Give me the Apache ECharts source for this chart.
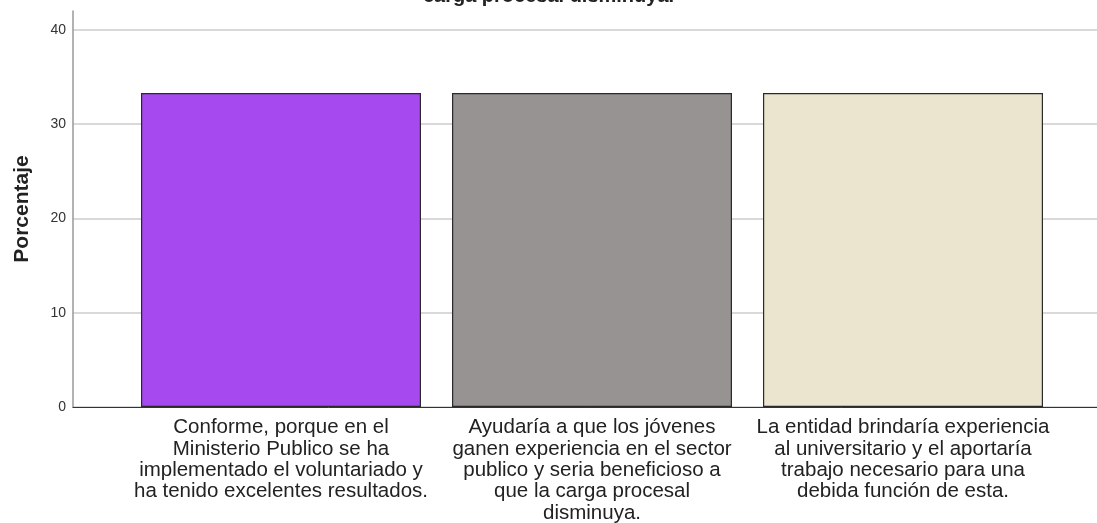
<!DOCTYPE html>
<html>
<head>
<meta charset="utf-8">
<script src="https://cdn.jsdelivr.net/npm/echarts@6/dist/echarts.min.js"></script>
<style>
  html, body { margin: 0; padding: 0; background: #fff; }
  #chart { width: 1097px; height: 523px; }
</style>
</head>
<body>
<div id="chart"></div>
<script>
  // respuestas (categorias del eje x)
  var categorias = [
    'Conforme, porque en el\nMinisterio Publico se ha\nimplementado el voluntariado y\nha tenido excelentes resultados.',
    'Ayudaría a que los jóvenes\nganen experiencia en el sector\npublico y seria beneficioso a\nque la carga procesal\ndisminuya.',
    'La entidad brindaría experiencia\nal universitario y el aportaría\ntrabajo necesario para una\ndebida función de esta.'
  ];
  var porcentajes = [33.3, 33.3, 33.3];
  var colores = ['#a64af0', '#979392', '#ebe4cf'];
  var titulo = 'carga procesal disminuya.';

  var chart = echarts.init(document.getElementById('chart'));
  var font = '"Liberation Sans", Arial, sans-serif';

  var option = {
    animation: false,
    title: {
      text: titulo,
      left: 'center',
      top: -19,
      textStyle: { fontFamily: font, fontSize: 20, fontWeight: 'bold', color: '#222' }
    },
    grid: [
      // marco con eje y y lineas de division
      { left: 73, right: 0, top: 11, bottom: 116, outerBoundsMode: 'none' },
      // zona de las barras
      { left: 125.5, right: 38.5, top: 11, bottom: 116, outerBoundsMode: 'none' }
    ],
    xAxis: [
      {
        gridIndex: 0, type: 'category', data: [''],
        axisLine: { lineStyle: { color: '#333', width: 1 } },
        axisTick: { show: false }, axisLabel: { show: false }
      },
      {
        gridIndex: 1, type: 'category', data: categorias,
        axisLine: { show: false }, axisTick: { show: false },
        axisLabel: {
          interval: 0, margin: 10,
          fontFamily: font, fontSize: 20.5, lineHeight: 21.3, color: '#222', align: 'center'
        }
      }
    ],
    yAxis: [
      {
        gridIndex: 0, type: 'value', min: 0, max: 42, interval: 10,
        name: 'Porcentaje', nameLocation: 'middle', nameGap: 40,
        nameTextStyle: { fontFamily: font, fontSize: 21, fontWeight: 'bold', color: '#222' },
        axisLine: { show: true, lineStyle: { color: '#999', width: 1.5 } },
        axisTick: { show: false },
        axisLabel: {
          fontFamily: font, fontSize: 14, color: '#333', margin: 7,
          formatter: function (v) { return v % 10 === 0 ? v : ''; }
        },
        splitLine: { lineStyle: { color: ['#ccc', '#ccc', '#ccc', '#ccc', '#ccc', 'rgba(0,0,0,0)'], width: 1.5 } }
      },
      {
        gridIndex: 1, type: 'value', min: 0, max: 42, show: false
      }
    ],
    series: [
      {
        type: 'bar', xAxisIndex: 1, yAxisIndex: 1,
        barWidth: 280,
        data: porcentajes.map(function (v, i) {
          return { value: v, itemStyle: { color: colores[i] } };
        }),
        itemStyle: { borderColor: '#2a2a2a', borderWidth: 1.2 }
      }
    ]
  };

  chart.setOption(option);
</script>
</body>
</html>
